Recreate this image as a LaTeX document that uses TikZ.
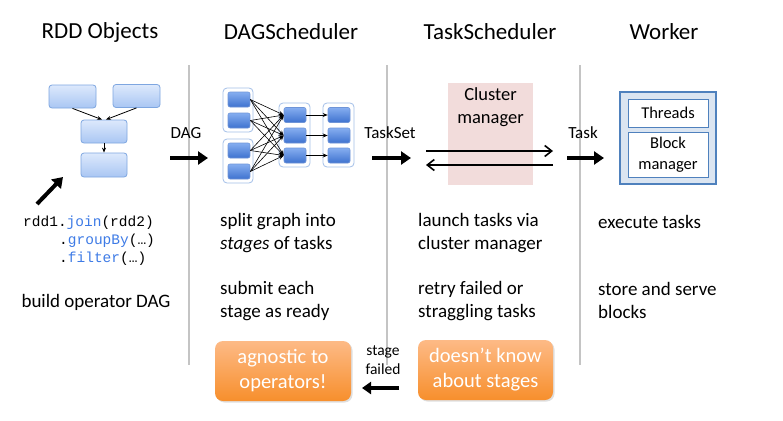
\documentclass[tikz,border=0pt]{standalone}
\usepackage{fontspec}
\setmainfont{Carlito}
\setmonofont{Liberation Mono}
\usetikzlibrary{arrows.meta,shadows}
\definecolor{codeblue}{HTML}{3E7BE6}
\definecolor{sepgray}{HTML}{C4C4C4}
\definecolor{pinkbg}{HTML}{F2DCDB}
\definecolor{wkfill}{HTML}{DBE5F1}
\definecolor{wkline}{HTML}{4F81BD}
\definecolor{rddline}{HTML}{7EA6E0}
\definecolor{rddtop}{HTML}{DDE9FC}
\definecolor{rddbot}{HTML}{A9C6F3}
\definecolor{dagline}{HTML}{6F95D8}
\definecolor{dagtop}{HTML}{86AEF0}
\definecolor{dagbot}{HTML}{3E72CF}
\definecolor{grpline}{HTML}{A3BFE8}
\definecolor{ortop}{HTML}{FDBA86}
\definecolor{orbot}{HTML}{F78F2C}
\tikzset{
  sz/.style={font=\fontsize{#1}{#1}\selectfont},
  title/.style={font=\fontsize{23}{26}\selectfont},
  body/.style={font=\fontsize{19}{23}\selectfont, anchor=west, align=left, inner sep=0pt},
  code/.style={font=\ttfamily\fontsize{14.5}{17}\selectfont, anchor=west, inner sep=0pt},
  rddbox/.style={draw=rddline, rounded corners=3pt, top color=rddtop, bottom color=rddbot, line width=0.8pt},
  dagbox/.style={draw=dagline, rounded corners=2pt, top color=dagtop, bottom color=dagbot, line width=0.6pt, minimum width=22pt, minimum height=15pt, inner sep=0pt},
  daggroup/.style={draw=grpline, rounded corners=4pt, fill=white, line width=0.8pt, inner sep=0pt},
  sep/.style={draw=sepgray, line width=2pt},
  bigarrow/.style={line width=4pt, -{Triangle[length=10pt,width=13pt]}},
  thinarrow/.style={line width=0.8pt, -{Stealth[length=5pt,width=4pt]}},
  cmarrow/.style={line width=1.6pt, -{Straight Barb[length=7pt,width=11pt,line width=1.6pt]}},
  orangebox/.style={rounded corners=8pt, top color=ortop, bottom color=orbot, text=white, align=center, font=\fontsize{20.5}{25}\selectfont, minimum width=136pt, minimum height=60pt, inner sep=0pt, drop shadow={opacity=0.25, shadow xshift=1.5pt, shadow yshift=-1.5pt}},
}
\begin{document}
\begin{tikzpicture}[x=1pt,y=-1pt]
\useasboundingbox[fill=white] (0,0) rectangle (783,420);

% titles
\node[title] (t1) at (100,32) {RDD Objects};
\node[title] (t2) at (291,32) {DAGScheduler};
\node[title] (t3) at (490,32) {TaskScheduler};
\node[title] (t4) at (664,32) {Worker};

% separators
\coordinate (s1a) at (189,65); \coordinate (s1b) at (189,365);
\coordinate (s2a) at (387,65); \coordinate (s2b) at (387,365);
\coordinate (s3a) at (580,65); \coordinate (s3b) at (580,365);
\draw[sep] (s1a) -- (s1b);
\draw[sep] (s2a) -- (s2b);
\draw[sep] (s3a) -- (s3b);

% RDD objects
\node[rddbox, minimum width=47pt, minimum height=23pt] (ra) at (72.5,96.5) {};
\node[rddbox, minimum width=47pt, minimum height=23pt] (rb) at (136.5,96) {};
\node[rddbox, minimum width=46pt, minimum height=23pt] (rc) at (104,131.5) {};
\node[rddbox, minimum width=46pt, minimum height=24pt] (rd) at (104,165) {};
\draw[thinarrow] (ra.south) -- ([xshift=-2pt]rc.north);
\draw[thinarrow] (rb.south) -- ([xshift=2pt]rc.north);
\draw[thinarrow] (rc.south) -- (rd.north);

\coordinate (ba1) at (37,204); \coordinate (ba2) at (63,177);
\draw[bigarrow] (ba1) -- (ba2);

\node[code] (c1) at (23,223) {rdd1.\textcolor{codeblue}{join}(rdd2)};
\node[code] (c2) at (59,241) {.\textcolor{codeblue}{groupBy}(…)};
\node[code] (c3) at (59,259) {.\textcolor{codeblue}{filter}(…)};

\node[font=\fontsize{19}{23}\selectfont] (bod) at (96,302) {build operator DAG};

% DAG arrow
\node[sz=17] (dagl) at (186,133) {DAG};
\coordinate (da1) at (170,158); \coordinate (da2) at (208,158);
\draw[bigarrow] (da1) -- (da2);

% DAGScheduler
\node[daggroup, minimum width=30pt, minimum height=44pt] (g1) at (238,110) {};
\node[daggroup, minimum width=30pt, minimum height=44pt] (g2) at (238,161) {};
\node[daggroup, minimum width=31pt, minimum height=64pt] (g3) at (294.5,135) {};
\node[daggroup, minimum width=31pt, minimum height=64pt] (g4) at (338.5,135) {};
\node[dagbox] (b11) at (239,99.5) {};
\node[dagbox] (b12) at (239,120.5) {};
\node[dagbox] (b21) at (239,150.5) {};
\node[dagbox] (b22) at (239,171.5) {};
\node[dagbox] (b31) at (295,115) {};
\node[dagbox] (b32) at (295,135.5) {};
\node[dagbox] (b33) at (295,155.5) {};
\node[dagbox] (b41) at (339,115) {};
\node[dagbox] (b42) at (339,135.5) {};
\node[dagbox] (b43) at (339,155.5) {};
\foreach \s in {b11,b12,b21,b22}{
  \foreach \t in {b31,b32,b33}{
    \draw[line width=0.6pt, -{Stealth[length=5pt,width=4pt]}] (\s.east) -- (\t.west);
  }
}
\draw[thinarrow] (b31) -- (b41);
\draw[thinarrow] (b32) -- (b42);
\draw[thinarrow] (b33) -- (b43);

% TaskSet arrow
\node[sz=17] (tsl) at (390,133) {TaskSet};
\coordinate (ts1) at (372,158); \coordinate (ts2) at (411,158);
\draw[bigarrow] (ts1) -- (ts2);

% TaskScheduler
\node[fill=pinkbg, minimum width=85pt, minimum height=102pt, inner sep=0pt] (cm) at (490.5,134) {};
\node[align=center, font=\fontsize{18.5}{23}\selectfont] (cml) at (490.5,107) {Cluster\\manager};
\coordinate (ca1) at (426,151); \coordinate (ca2) at (553,151);
\coordinate (cb1) at (553,165); \coordinate (cb2) at (426,165);
\draw[cmarrow] (ca1) -- (ca2);
\draw[cmarrow] (cb1) -- (cb2);

% Task arrow
\node[sz=17] (tkl) at (583,133) {Task};
\coordinate (tk1) at (567,158); \coordinate (tk2) at (604,158);
\draw[bigarrow] (tk1) -- (tk2);

% Worker
\node[draw=wkline, fill=wkfill, line width=2pt, minimum width=96pt, minimum height=92pt, inner sep=0pt] (wk) at (668,138) {};
\node[draw=wkline, fill=white, line width=0.8pt, minimum width=80pt, minimum height=28pt, inner sep=0pt, font=\fontsize{16.5}{19}\selectfont] (thr) at (668,113) {Threads};
\node[draw=wkline, fill=white, line width=0.8pt, minimum width=80pt, minimum height=45pt, inner sep=0pt, align=center, font=\fontsize{16.5}{20.5}\selectfont] (bm) at (668,154.5) {Block\\manager};

% descriptions
\node[body] (d1) at (220,233.5) {split graph into\\\textit{stages} of tasks};
\node[body] (d2) at (220,301) {submit each\\stage as ready};
\node[body] (d3) at (418,233.5) {launch tasks via\\cluster manager};
\node[body] (d4) at (418,301) {retry failed or\\straggling tasks};
\node[body] (d5) at (598,222) {execute tasks};
\node[body] (d6) at (598,300) {store and serve\\blocks};

% orange boxes
\node[orangebox] (o1) at (283,371) {agnostic to\\operators!};
\node[orangebox, minimum width=135pt] (o2) at (485.5,370) {doesn’t know\\about stages};
\node[align=center, font=\fontsize{15.5}{19}\selectfont, inner sep=0pt] (sf) at (383,360.5) {stage\\failed};
\coordinate (sa1) at (399,388); \coordinate (sa2) at (362,388);
\draw[line width=3.5pt, -{Triangle[length=9pt,width=12pt]}] (sa1) -- (sa2);
\end{tikzpicture}
\end{document}
